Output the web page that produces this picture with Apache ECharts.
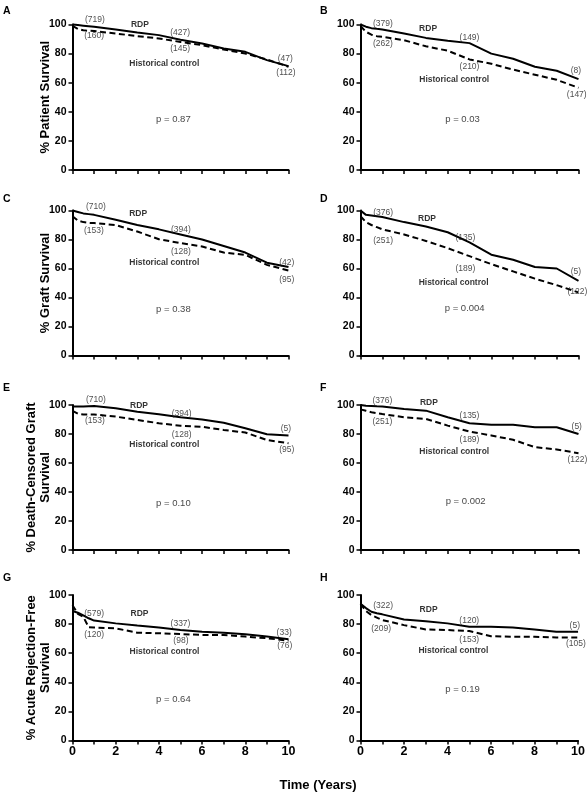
<!DOCTYPE html>
<html><head><meta charset="utf-8">
<script src="https://cdn.jsdelivr.net/npm/echarts@6/dist/echarts.min.js"></script>
<style>html,body{margin:0;padding:0;background:#fff;}#c{width:588px;height:795px;}</style>
</head><body><div id="c"></div>
<script>
// ---------- DATA ----------
const years = [0, 0.25, 0.5, 0.75, 1, 2, 3, 4, 5, 6, 7, 8, 9, 10];
const xTicks = [0, 2, 4, 6, 8, 10];
const yTicks = [0, 20, 40, 60, 80, 100];

const rdpA  = [100, 99.6, 99.2, 98.8, 98.4, 96.6, 94.5, 92.7, 89.5, 87, 83.5, 81.2, 75.5, 71.4];
const histA = [99, 97, 96, 95.7, 95.5, 93.8, 92, 90.4, 88, 85.8, 82.8, 80, 76, 71];
const rdpB  = [100, 98.5, 97.5, 97, 96.6, 93.8, 90.8, 88.8, 87.2, 80, 76.5, 71, 68.2, 62.5];
const histB = [99, 95, 93, 92, 91.5, 89.2, 85, 82, 76, 73, 69, 65.5, 62, 56.5];
const rdpC  = [100, 99, 98, 97.5, 97, 93.6, 90, 87, 83.5, 80, 75.5, 71, 64, 61];
const histC = [96, 93, 92, 91.5, 91.3, 90, 85.5, 80.2, 77.5, 75.2, 71, 69.4, 62.5, 58.6];
const rdpD  = [100, 97, 96.5, 96, 95.5, 92, 89, 85, 78, 69.5, 66, 61, 60, 51.5];
const histD = [96, 92, 90, 88.5, 87, 83.5, 79, 74, 68.5, 63, 58, 53, 48.5, 43.5];
const rdpE  = [99, 99, 99, 99.2, 99.3, 97.7, 95.4, 93.6, 91.5, 90, 87.8, 84, 79.8, 79];
const histE = [96, 94, 93.5, 93.5, 93.5, 92, 89.7, 87.4, 85.7, 85, 82.8, 81, 75.9, 73.6];
const rdpF  = [100, 99.5, 99.3, 99.1, 99, 97.3, 96.1, 91.5, 87.4, 86.3, 86.3, 84.7, 84.7, 80];
const histF = [97, 96, 95, 94.4, 93.8, 91.5, 90.4, 85.8, 81.7, 79, 76, 70.9, 69.3, 66.8];
const rdpG  = [89, 87.8, 86, 84, 82.4, 80.5, 79, 77.6, 76, 74.8, 74.1, 73, 71.4, 69.6];
const histG = [93, 87, 85, 77.8, 77.6, 77.1, 74.1, 73.7, 73.2, 72.5, 72.5, 71.4, 70.3, 68.6];
const rdpH  = [94, 91, 88.5, 87.5, 86.7, 83.2, 82, 80.5, 78.2, 78.2, 77.7, 76.3, 74.7, 74.7];
const histH = [94, 89, 86.2, 84.5, 82.8, 79.3, 76.3, 75.9, 75.2, 71.7, 71.3, 71.3, 70.8, 70.8];

const atRiskRdp = [
  ['(719)', '(427)', '(47)'], ['(379)', '(149)', '(8)'],
  ['(710)', '(394)', '(42)'], ['(376)', '(135)', '(5)'],
  ['(710)', '(394)', '(5)'],  ['(376)', '(135)', '(5)'],
  ['(579)', '(337)', '(33)'], ['(322)', '(120)', '(5)']
];
const atRiskHist = [
  ['(160)', '(145)', '(112)'], ['(262)', '(210)', '(147)'],
  ['(153)', '(128)', '(95)'],  ['(251)', '(189)', '(122)'],
  ['(153)', '(128)', '(95)'],  ['(251)', '(189)', '(122)'],
  ['(120)', '(98)', '(76)'],   ['(209)', '(153)', '(105)']
];
const pValues = ['p = 0.87', 'p = 0.03', 'p = 0.38', 'p = 0.004', 'p = 0.10', 'p = 0.002', 'p = 0.64', 'p = 0.19'];
const panelLetters = ['A', 'B', 'C', 'D', 'E', 'F', 'G', 'H'];
const yTitles = ['% Patient Survival', '', '% Graft Survival', '', '% Death-Censored Graft\nSurvival', '', '% Acute Rejection-Free\nSurvival', ''];
const seriesNames = ['RDP', 'Historical control'];
const xTitle = 'Time (Years)';

const rdpAll = [rdpA, rdpB, rdpC, rdpD, rdpE, rdpF, rdpG, rdpH];
const histAll = [histA, histB, histC, histD, histE, histF, histG, histH];

// ---------- LAYOUT (annotation anchor points in data space) ----------
// order: rdp@1, rdp@5, rdp@10, hist@1, hist@5, hist@10, RDP label, Historical label, p
const annotPos = [
  [[1.04,103],[4.98,94.3],[9.85,76.7],[1.0,92],[4.98,83.5],[9.88,66.8],[3.12,100.2],[4.25,72.8],[4.67,34.8]],
  [[1.03,100.7],[5.0,91],[9.88,68],[1.03,86.5],[5.0,71],[9.92,52],[3.1,97.3],[4.3,61.8],[4.68,34.8]],
  [[1.08,102.8],[5.02,87.1],[9.92,64.1],[0.99,86.2],[5.02,71.7],[9.92,52.6],[3.04,97.7],[4.25,63.7],[4.67,31.5]],
  [[1.04,98.2],[4.81,81.6],[9.88,57.5],[1.04,79.3],[4.81,59.8],[9.95,43.7],[3.05,94.3],[4.27,49.9],[4.78,32.2]],
  [[1.08,103.4],[5.05,94.3],[9.88,83.9],[1.04,89],[5.05,79.8],[9.92,69],[3.08,99.5],[4.25,72.4],[4.67,32.2]],
  [[1.0,103],[5.0,92.7],[9.92,85.4],[1.0,88.6],[5.0,76],[9.95,62.5],[3.14,101.8],[4.3,67.5],[4.82,33.2]],
  [[1.0,87.4],[5.0,80.5],[9.8,74.1],[1.0,73],[5.02,68.4],[9.83,65],[3.1,87.4],[4.26,61.1],[4.67,28.6]],
  [[1.04,92.4],[5.0,82.3],[9.85,78.9],[0.95,77],[5.0,69],[9.9,66.7],[3.13,90.1],[4.27,61.6],[4.69,34.9]]
];
const gridLefts = [72.5, 360.5];
const gridWidths = [216, 218];
const gridTops = [24.5, 210.5, 405, 595];
const gridHeights = [145.5, 145, 145, 145.5];
const letterPos = [[3, 11.5], [320, 11.5], [3, 199], [320, 199], [3, 388.5], [320, 388.5], [3, 578], [320, 578]];

const FONT = 'Liberation Sans, Arial, sans-serif';
const chart = echarts.init(document.getElementById('c'), null, { renderer: 'canvas' });

const grids = [], xAxes = [], yAxes = [], series = [], graphics = [];
for (let i = 0; i < 8; i++) {
  const col = i % 2, row = Math.floor(i / 2);
  grids.push({ left: gridLefts[col], top: gridTops[row], width: gridWidths[col], height: gridHeights[row], containLabel: false });
  const bottomRow = row === 3;
  xAxes.push({
    gridIndex: i, type: 'value', min: 0, max: 10, interval: 1,
    axisLine: { show: true, onZero: false, lineStyle: { color: '#000', width: 2 } },
    axisTick: { show: true, inside: false, length: 4, lineStyle: { color: '#000', width: 1.5 } },
    axisLabel: {
      show: bottomRow, margin: 5, color: '#000', fontFamily: FONT, fontWeight: 'bold', fontSize: 12.5,
      formatter: v => (xTicks.indexOf(v) >= 0 ? String(v) : '')
    },
    splitLine: { show: false }
  });
  yAxes.push({
    gridIndex: i, type: 'value', min: 0, max: 100, interval: 20,
    name: yTitles[i], nameLocation: 'middle', nameGap: 20.5, nameRotate: 90, nameMoveOverlap: false,
    nameTextStyle: { color: '#000', fontFamily: FONT, fontWeight: 'bold', fontSize: 13, lineHeight: 14 },
    axisLine: { show: true, onZero: false, lineStyle: { color: '#000', width: 2 } },
    axisTick: { show: true, inside: false, length: 4, lineStyle: { color: '#000', width: 1.5 } },
    axisLabel: {
      show: true, margin: 6, color: '#000', fontFamily: FONT, fontWeight: 'bold', fontSize: 10.5,
      formatter: v => (yTicks.indexOf(v) >= 0 ? String(v) : '')
    },
    splitLine: { show: false }
  });
  series.push({
    type: 'line', name: seriesNames[0], xAxisIndex: i, yAxisIndex: i,
    data: years.map((t, k) => [t, rdpAll[i][k]]),
    showSymbol: false, symbol: 'none', smooth: false, clip: false,
    lineStyle: { color: '#000', width: 2, type: 'solid' }, z: 3, silent: true, animation: false
  });
  series.push({
    type: 'line', name: seriesNames[1], xAxisIndex: i, yAxisIndex: i,
    data: years.map((t, k) => [t, histAll[i][k]]),
    showSymbol: false, symbol: 'none', smooth: false, clip: false,
    lineStyle: { color: '#000', width: 2, type: [6, 3.5] }, z: 2, silent: true, animation: false
  });
  const pos = annotPos[i];
  const small = { fontFamily: FONT, fontSize: 8.5, fontWeight: 'normal', color: '#222' };
  const boldL = { fontFamily: FONT, fontSize: 8.5, fontWeight: 'bold', color: '#000' };
  const pStyle = { fontFamily: FONT, fontSize: 9.5, fontWeight: 'normal', color: '#111' };
  const texts = [
    [atRiskRdp[i][0], small], [atRiskRdp[i][1], small], [atRiskRdp[i][2], small],
    [atRiskHist[i][0], small], [atRiskHist[i][1], small], [atRiskHist[i][2], small],
    [seriesNames[0], boldL], [seriesNames[1], boldL], [pValues[i], pStyle]
  ];
  series.push({
    type: 'scatter', xAxisIndex: i, yAxisIndex: i, symbolSize: 0, clip: false, silent: true, animation: false, z: 5,
    data: texts.map((tx, k) => ({
      value: pos[k],
      label: Object.assign({ show: true, position: 'inside', align: 'center', verticalAlign: 'middle', formatter: tx[0] }, tx[1])
    }))
  });
  graphics.push({
    type: 'text', x: letterPos[i][0], y: letterPos[i][1],
    style: { text: panelLetters[i], fontFamily: FONT, fontSize: 10.5, fontWeight: 'bold', fill: '#000', verticalAlign: 'middle' }
  });
}
graphics.push({
  type: 'text', x: 318, y: 785,
  style: { text: xTitle, fontFamily: FONT, fontSize: 13, fontWeight: 'bold', fill: '#000', align: 'center', verticalAlign: 'middle' }
});

chart.setOption({
  animation: false,
  backgroundColor: '#fff',
  textStyle: { fontFamily: FONT },
  grid: grids, xAxis: xAxes, yAxis: yAxes, series: series, graphic: graphics
});
</script></body></html>
